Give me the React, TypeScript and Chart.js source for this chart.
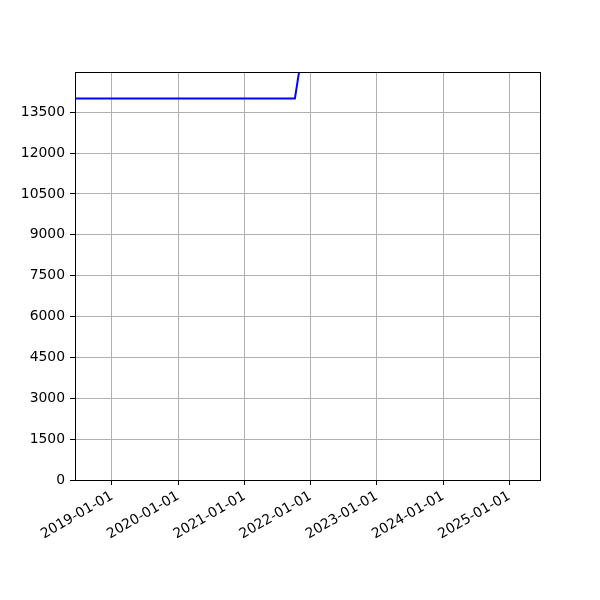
import React, { useRef, useEffect } from 'react';
import { Chart, registerables } from 'chart.js';

Chart.register(...registerables);

// dates of the blue series (yyyy-mm-dd) and its values
const seriesDates = ['2018-06-01', '2021-10-06', '2021-11-15'];
const seriesValues = [14000, 14000, 15700];

// axis limits and ticks
const xRange = ['2018-06-11', '2025-06-19'];
const xTickDates = ['2019-01-01', '2020-01-01', '2021-01-01', '2022-01-01', '2023-01-01', '2024-01-01', '2025-01-01'];
const yTicks = [0, 1500, 3000, 4500, 6000, 7500, 9000, 10500, 12000, 13500];
const yMax = 14975;

const toMs = (s: string) => {
    const [y, m, d] = s.split('-').map(Number);
    return Date.UTC(y, m - 1, d);
};

const fmtDate = (v: number) => new Date(v).toISOString().slice(0, 10);

const App = () => {
    const chartRef = useRef<HTMLCanvasElement>(null);
    const chartInstance = useRef<Chart | null>(null);

    useEffect(() => {
        if (!chartRef.current) return;
        const ctx = chartRef.current.getContext('2d');
        if (!ctx) return;

        if (chartInstance.current) {
            chartInstance.current.destroy();
        }

        const font = { family: '"DejaVu Sans", sans-serif', size: 13.9 };

        // frame around the plot area (matplotlib spines)
        const framePlugin = {
            id: 'framePlugin',
            afterDraw: (chart: Chart) => {
                const { ctx, chartArea } = chart;
                ctx.save();
                ctx.strokeStyle = '#000';
                ctx.lineWidth = 1;
                ctx.strokeRect(chartArea.left + 0.5, chartArea.top + 0.5, chartArea.right - chartArea.left, chartArea.bottom - chartArea.top);
                ctx.restore();
            }
        };

        const whiteBg = {
            id: 'whiteBg',
            beforeDraw: (chart: Chart) => {
                const c = chart.ctx;
                c.save();
                c.fillStyle = '#fff';
                c.fillRect(0, 0, chart.width, chart.height);
                c.restore();
            }
        };

        chartInstance.current = new Chart(ctx, {
            type: 'line',
            data: {
                datasets: [{
                    data: seriesDates.map((d, i) => ({ x: toMs(d), y: seriesValues[i] })),
                    borderColor: '#0000ff',
                    borderWidth: 2,
                    pointRadius: 0,
                    fill: false,
                    tension: 0
                }]
            },
            plugins: [whiteBg, framePlugin],
            options: {
                responsive: false,
                animation: false,
                devicePixelRatio: 1,
                layout: { padding: { left: 0, top: 72, right: 60, bottom: 0 } },
                scales: {
                    x: {
                        type: 'linear',
                        min: toMs(xRange[0]),
                        max: toMs(xRange[1]),
                        afterBuildTicks: (scale: any) => {
                            scale.ticks = xTickDates.map(d => ({ value: toMs(d) }));
                        },
                        afterFit: (scale: any) => { scale.height = 120; },
                        grid: { color: '#b0b0b0', lineWidth: 1, tickColor: '#000', tickLength: 5, drawTicks: true },
                        border: { display: false },
                        ticks: {
                            font,
                            color: '#000',
                            padding: 3,
                            minRotation: 30,
                            maxRotation: 30,
                            autoSkip: false,
                            callback: (v: any) => fmtDate(Number(v))
                        }
                    },
                    y: {
                        type: 'linear',
                        min: 0,
                        max: yMax,
                        afterBuildTicks: (scale: any) => {
                            scale.ticks = yTicks.map(v => ({ value: v }));
                        },
                        afterFit: (scale: any) => { scale.width = 75; },
                        grid: { color: '#b0b0b0', lineWidth: 1, tickColor: '#000', tickLength: 5, drawTicks: true },
                        border: { display: false },
                        ticks: {
                            font,
                            color: '#000',
                            padding: 5,
                            autoSkip: false,
                            callback: (v: any) => String(v)
                        }
                    }
                },
                plugins: {
                    legend: { display: false },
                    tooltip: { enabled: false }
                }
            }
        });

        return () => {
            if (chartInstance.current) {
                chartInstance.current.destroy();
                chartInstance.current = null;
            }
        };
    }, []);

    return (
        <div style={{ position: 'absolute', left: 0, top: 0, width: '600px', height: '600px', background: '#fff' }}>
            <canvas ref={chartRef} width={600} height={600}></canvas>
        </div>
    );
};

export default App;
